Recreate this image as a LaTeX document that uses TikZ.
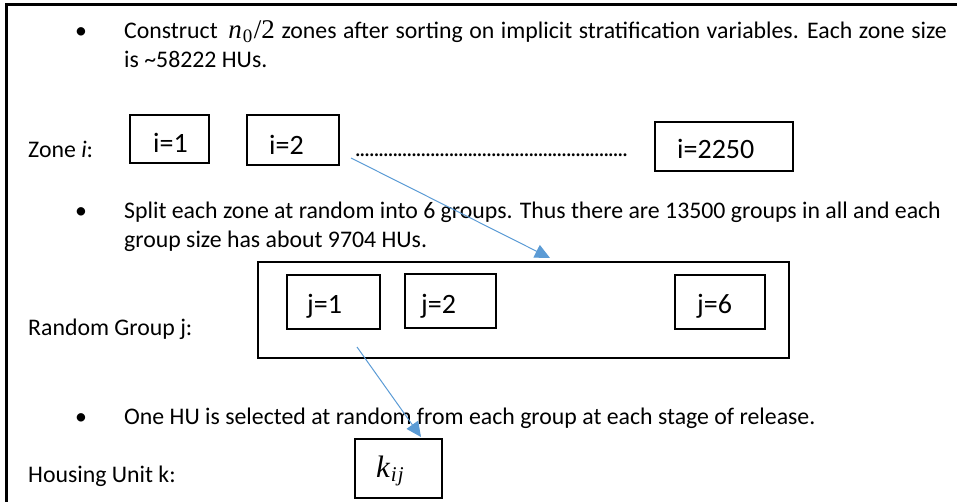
\documentclass[tikz,border=0pt]{standalone}
\usepackage{fontspec}
\setmainfont{Carlito}
\newfontfamily\cmfont{Liberation Serif}
\usetikzlibrary{arrows.meta,fit}
\definecolor{arrowblue}{HTML}{5B9BD5}
\begin{document}
\begin{tikzpicture}[x=1pt,y=-1pt,
  txt/.style={anchor=base west, inner sep=0pt, font=\fontsize{23.8}{28}\selectfont},
  blab/.style={anchor=base west, inner sep=0pt, font=\fontsize{28}{32}\selectfont},
  boxst/.style={draw=black, line width=2.3pt, inner sep=0pt},
  conn/.style={draw=arrowblue, line width=1pt, -{Triangle[length=15pt,width=14pt]}}
]
\useasboundingbox (0,0) rectangle (957,502);
% outer frame (cropped at right and bottom)
\draw[line width=3pt] (6.5,520) -- (6.5,5) -- (970,5);

% boxes
\node[boxst, fit={(130,115) (209,163)}] (z1) {};
\node[boxst, fit={(247,115) (339,165)}] (z2) {};
\node[boxst, fit={(655,122) (793,171)}] (zN) {};
\node[boxst, fit={(258,262) (789,358)}] (G) {};
\node[boxst, fit={(287,275) (380,329)}] (g1) {};
\node[boxst, fit={(405,274) (496,328)}] (g2) {};
\node[boxst, fit={(675,275) (765,329)}] (g6) {};
\node[boxst, fit={(355,439) (442,498)}] (k) {};

% bullet texts
\node[txt] (bul1) at (75,39) {•};
\node[txt] (l1a) at (124,39) {\spaceskip=6.6pt Construct\hspace{4pt} {\cmfont\fontsize{27}{27}\selectfont\itshape n\hspace{1pt}}\raisebox{-0.35ex}{\cmfont\fontsize{19}{19}\selectfont 0}{\cmfont\fontsize{27}{27}\selectfont\hspace{1.5pt}/2} zones after sorting on implicit stratification variables. Each zone size};
\node[txt] (l1b) at (124,68) {is \textasciitilde58222 HUs.};
\node[txt] (bul2) at (75,219) {•};
\node[txt] (l2a) at (124,219) {Split each zone at random into 6 groups. Thus there are 13500 groups in all and each};
\node[txt] (l2b) at (124,248) {group size has about 9704 HUs.};
\node[txt] (bul3) at (75,424) {•};
\node[txt] (l3) at (124,424) {One HU is selected at random from each group at each stage of release.};

% row labels
\node[txt] (zl) at (28,158) {Zone \textit{i}:};
\node[txt] (rl) at (28,335) {Random Group j:};
\node[txt] (hl) at (28,482) {Housing Unit k:};

% box labels
\node[blab] (z1t) at (153,153) {i=1};
\node[blab] (z2t) at (269,155) {i=2};
\node[txt] (dots) at (355,157) {\hbox to 273pt{\cleaders\hbox to 4.7pt{\hss.\hss}\hfill}};
\node[blab] (zNt) at (677,159) {i=2250};
\node[blab] (g1t) at (307,313) {j=1};
\node[blab] (g2t) at (421,313) {j=2};
\node[blab] (g6t) at (697,313) {j=6};
\node[blab] (kt) at (376,477) {{\cmfont\fontsize{31}{31}\selectfont\itshape k\hspace{1pt}\raisebox{-0.35ex}{\fontsize{21}{21}\selectfont i\hspace{1pt}j}}};

% connectors
\coordinate (a1s) at (351,158);
\coordinate (a1e) at (550,258);
\coordinate (a2s) at (357,347);
\coordinate (a2e) at (421,437);
\draw[conn] (a1s) -- (a1e);
\draw[conn] (a2s) -- (a2e);
\end{tikzpicture}
\end{document}
